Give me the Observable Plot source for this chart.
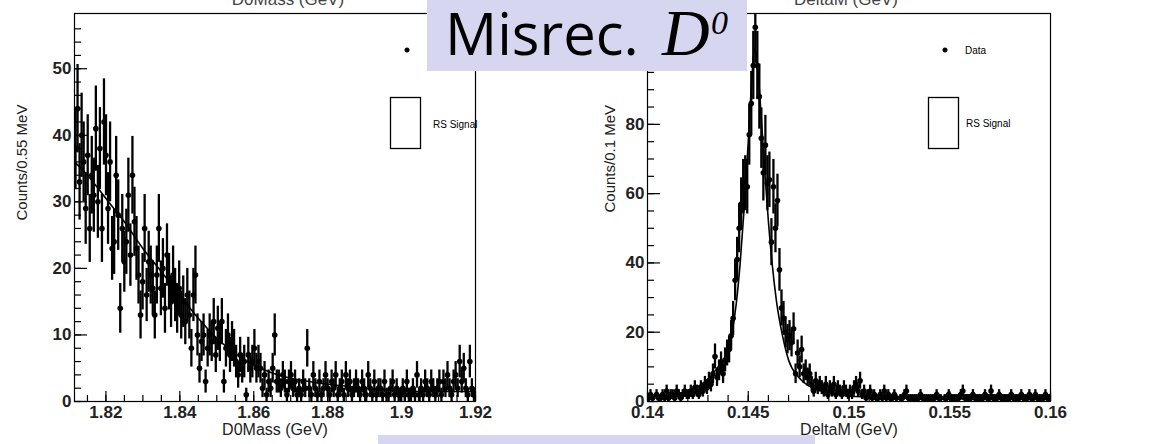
<!DOCTYPE html>
<html><head><meta charset="utf-8">
<script src="https://cdn.jsdelivr.net/npm/d3@7"></script>
<script src="https://cdn.jsdelivr.net/npm/@observablehq/plot@0.6"></script>
<style>
body{margin:0;background:#fff;}
#wrap{position:relative;width:1149px;height:444px;overflow:hidden;}
#left,#right{position:absolute;top:0;}
#left{left:0;} #right{left:575px;}
#overlay{position:absolute;left:0;top:0;}
</style></head><body>
<div id="wrap">
  <div id="left"></div>
  <div id="right"></div>
  <svg id="overlay" width="1149" height="444" font-family="Liberation Sans, Arial, sans-serif">
    <!-- legend left (its "Data" label is covered by the title box) -->
    <circle cx="407" cy="50" r="2.5" fill="#000"/>
    <rect x="390.5" y="97.5" width="30" height="51" fill="none" stroke="#000" stroke-width="1.3"/>
    <text x="433" y="128" font-size="10">RS Signal</text>
    <!-- legend right -->
    <circle cx="945" cy="50" r="2.5" fill="#000"/>
    <text x="965" y="54" font-size="10">Data</text>
    <rect x="928.5" y="97.5" width="30" height="51" fill="none" stroke="#000" stroke-width="1.3"/>
    <text x="966" y="127" font-size="10">RS Signal</text>
    <!-- title box -->
    <rect x="427" y="0" width="320" height="71" fill="#d6d6f0"/>
    <text x="445" y="55" font-family="Open Sans" font-size="58" fill="#000">Misrec.</text>
    <text x="662" y="55" font-family="Liberation Serif" font-style="italic" font-size="66" fill="#000">D</text>
    <text x="711" y="34" font-family="Liberation Serif" font-style="italic" font-size="34" fill="#000">0</text>
    <!-- bottom box -->
    <rect x="378" y="435" width="437" height="12" fill="#d6d6f0"/>
  </svg>
</div>
<script>
// ---------- Left panel: D0Mass ----------
const massStart = 1.8115;
const massBin = 0.00055;
const massCounts = [
  38,44,33,40,36,29,37,26,34,31,
  41,30,38,26,42,37,29,36,23,24,
  34,28,14,26,21,24,31,22,34,27,
  23,19,13,18,26,16,21,19,17,13,
  19,26,17,20,14,22,18,15,19,16,
  14,17,13,15,12,16,13,8,16,19,
  10,5,9,10,3,8,10,9,12,7,
  11,9,12,3,8,10,7,9,8,6,
  4,7,5,6,1,7,5,6,8,5,
  6,5,2,4,1,3,2,5,10,3,
  3,2,4,3,1,3,4,2,3,1,
  2,1,3,2,8,2,1,4,2,1,
  3,1,2,4,2,1,3,2,4,1,
  2,3,1,4,2,3,1,2,3,2,
  1,3,2,1,4,2,1,3,1,2,
  2,1,3,1,1,2,3,1,2,1,
  1,2,1,3,1,1,2,1,4,1,
  2,1,3,2,1,3,2,1,2,3,
  1,3,2,4,2,1,3,4,2,6,
  3,5,2,1,6,2,1
];
const massFitX = [1.8115,1.815,1.82,1.825,1.83,1.835,1.84,1.845,1.85,1.855,1.86,1.865,1.87,1.875,1.88,1.885,1.89,1.895,1.9,1.905,1.91,1.915,1.92];
const massFitY = [36,34,30.5,27,23,19.5,16,12.5,9.5,7.2,5.5,4.3,3.5,3.0,2.6,2.3,2.0,1.8,1.6,1.5,1.5,1.5,1.5];
const massXTicks = [1.82,1.84,1.86,1.88,1.9,1.92];
const massYTicks = [0,10,20,30,40,50];

// ---------- Right panel: DeltaM ----------
const dmStart = 0.14;
const dmBin = 0.0001;
const dmCounts = [
  1,2,1,0,2,1,1,2,1,3,1,2,2,1,3,2,1,2,3,2,
  2,3,2,4,3,2,4,3,5,4,6,5,8,13,7,9,11,8,12,14,
  15,19,24,35,41,50,57,62,63,62,77,86,97,108,97,88,76,66,74,63,
  64,46,62,50,58,38,27,24,20,18,19,17,21,8,14,10,15,8,9,7,
  8,5,3,6,4,5,4,3,5,2,4,3,5,2,4,3,2,4,3,2,
  3,2,4,5,3,6,2,3,1,2,3,1,2,1,1,2,1,3,1,2,
  1,1,2,1,0,1,1,2,3,1,1,1,1,1,1,2,1,1,1,1,
  1,1,1,2,1,1,0,1,1,2,1,1,1,1,1,2,3,1,1,1,
  1,2,1,1,1,1,1,2,1,1,3,1,1,1,2,1,1,1,1,1,
  2,1,1,1,1,2,1,1,1,2,1,1,2,1,1,1,1,2,1,1
];
const dmSigX = [0.14,0.141,0.1415,0.142,0.1425,0.143,0.1435,0.144,0.1442,0.1444,0.1446,0.1448,0.145,0.1452,0.1453,0.1454,0.1456,0.1458,0.146,0.1462,0.1464,0.1467,0.147,0.1475,0.148,0.149,0.15,0.152,0.155,0.16];
const dmSigY = [1.2,1.8,2.3,3,4.3,6.5,10,15,20,28,40,56,75,95,102,100,86,68,52,39,29,19,12,7,4.5,2.5,1.6,1.1,0.8,0.6];
const dmXTicks = [0.14,0.145,0.15,0.155,0.16];
const dmYTicks = [0,20,40,60,80];

const H = 444, MT = 13, MB = 43;
const font = "Liberation Sans, Arial, sans-serif";

function panel({start, bin, counts, curveX, curveY, xDomain, yDomain, xTicks, yTicks,
                xMinor, yMinor, width, ml, mr, xTitle, yTitle, yTitleDx, yTitleDy, topTitleDx}) {
  const pts = counts.map((v, i) => ({x: start + bin * (i + 0.5), v})).filter(d => d.v > 0);
  const curve = curveX.map((x, i) => ({x, y: curveY[i]}));
  const ph = H - MT - MB, pw = width - ml - mr;
  return Plot.plot({
    width, height: H,
    marginLeft: ml, marginRight: mr, marginTop: MT, marginBottom: MB,
    style: {fontFamily: font, background: "transparent", overflow: "visible"},
    x: {domain: xDomain, axis: null},
    y: {domain: yDomain, axis: null},
    marks: [
      Plot.ruleX(pts, {x: "x", y1: d => Math.max(0, d.v - Math.sqrt(d.v)), y2: d => d.v + Math.sqrt(d.v), stroke: "#000", strokeWidth: 2.3, clip: true}),
      Plot.ruleY(pts, {y: "v", x1: d => d.x - bin / 2, x2: d => d.x + bin / 2, stroke: "#000", strokeWidth: 1.6, clip: true}),
      Plot.dot(pts, {x: "x", y: "v", r: 2.8, fill: "#000", stroke: "none", clip: true}),
      Plot.line(curve, {x: "x", y: "y", curve: "monotone-x", stroke: "#000", strokeWidth: 1.6, clip: true}),
      Plot.frame({stroke: "#000", strokeWidth: 1.2}),
      Plot.tickX(xTicks, {x: d => d, insetTop: ph - 10, stroke: "#000", strokeWidth: 1.2}),
      Plot.tickX(xMinor, {x: d => d, insetTop: ph - 6, stroke: "#000", strokeWidth: 1.2}),
      Plot.tickY(yTicks, {y: d => d, insetRight: pw - 13, stroke: "#000", strokeWidth: 1.2}),
      Plot.tickY(yMinor, {y: d => d, insetRight: pw - 7, stroke: "#000", strokeWidth: 1.2}),
      Plot.axisX(xTicks, {tickSize: 0, tickPadding: 4, fontSize: 17, fontWeight: "bold", fill: "#222", label: null, tickFormat: d => String(d)}),
      Plot.axisY(yTicks, {tickSize: 0, tickPadding: 3, fontSize: 17, fontWeight: "bold", fill: "#222", label: null, tickFormat: d => String(d)}),
      Plot.text([xTitle], {frameAnchor: "bottom", dy: 33, fontSize: 16, fill: "#222"}),
      Plot.text([yTitle], {frameAnchor: "left", rotate: -90, dx: yTitleDx, dy: yTitleDy, fontSize: 15, fill: "#222"}),
      Plot.text([xTitle], {frameAnchor: "top", dx: topTitleDx, dy: -9, lineAnchor: "bottom", fontSize: 17, fill: "#444"})
    ]
  });
}

const left = panel({
  start: massStart, bin: massBin, counts: massCounts, curveX: massFitX, curveY: massFitY,
  xDomain: [1.8115, 1.92], yDomain: [0, 58.3], xTicks: massXTicks, yTicks: massYTicks,
  xMinor: d3.range(1.815, 1.9201, 0.005), yMinor: d3.range(0, 58, 2),
  width: 575, ml: 74, mr: 100, xTitle: "D0Mass (GeV)", yTitle: "Counts/0.55 MeV",
  yTitleDx: -52, yTitleDy: 13, topTitleDx: 13
});
document.getElementById("left").appendChild(left);

const right = panel({
  start: dmStart, bin: dmBin, counts: dmCounts, curveX: dmSigX, curveY: dmSigY,
  xDomain: [0.14, 0.16], yDomain: [0, 112], xTicks: dmXTicks, yTicks: dmYTicks,
  xMinor: d3.range(0.141, 0.1601, 0.001), yMinor: d3.range(0, 112, 5),
  width: 574, ml: 72, mr: 99, xTitle: "DeltaM (GeV)", yTitle: "Counts/0.1 MeV",
  yTitleDx: -37, yTitleDy: 5, topTitleDx: -3
});
document.getElementById("right").appendChild(right);
</script>
</body></html>
